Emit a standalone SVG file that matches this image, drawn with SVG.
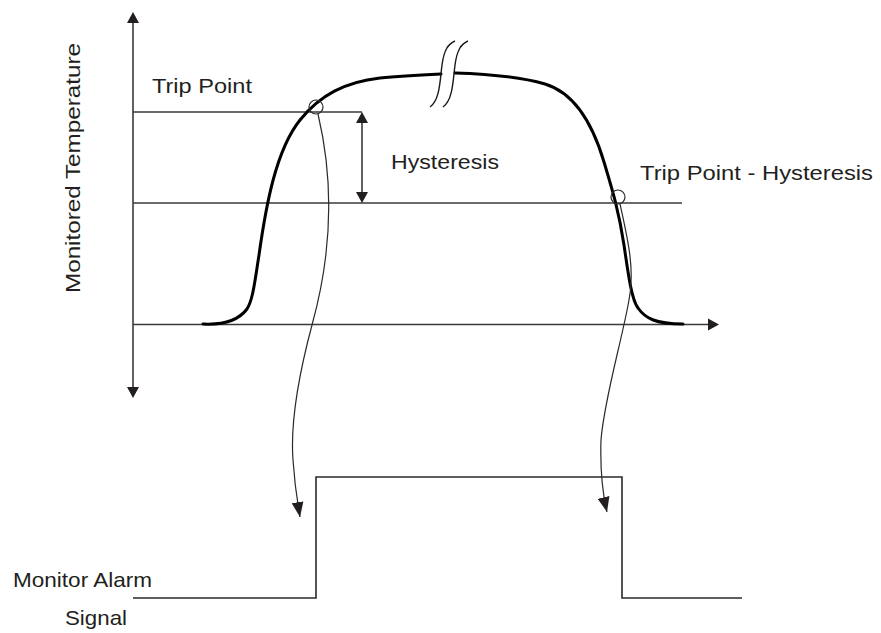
<svg xmlns="http://www.w3.org/2000/svg" width="881" height="633" viewBox="0 0 881 633">
<style>
.ax{stroke:#3a3a3a;stroke-width:1.6;fill:none}
.thin{stroke:#2a2a2a;stroke-width:1.2;fill:none}
.curve{stroke:#000;stroke-width:3;fill:none;stroke-linecap:round}
.brk{stroke:#1a1a1a;stroke-width:1.4;fill:none}
.sig{stroke:#2a2a2a;stroke-width:1.6;fill:none}
text{font-family:"Liberation Sans",Arial,sans-serif;font-size:21px;fill:#231f20}
</style>
<defs>
<marker id="ah" viewBox="0 0 15 12" refX="15" refY="6" markerWidth="15" markerHeight="12" markerUnits="userSpaceOnUse" orient="auto">
<path d="M0,0 L15,6 L0,12 Z" fill="#231f20"/>
</marker>
</defs>
<g id="axes">
<line class="ax" x1="133" y1="22" x2="133" y2="388"/>
<path d="M133,12 L127,23 L139,23 Z" fill="#231f20"/>
<path d="M133,398 L127,387 L139,387 Z" fill="#231f20"/>
<line class="ax" x1="133" y1="324.5" x2="708" y2="324.5"/>
<path d="M719,324.5 L708,318.5 L708,330.5 Z" fill="#231f20"/>
</g>
<g id="levels">
<line class="ax" x1="133" y1="112" x2="362" y2="112"/>
<line class="ax" x1="133" y1="203" x2="682" y2="203"/>
</g>
<g id="hysteresis-arrow">
<line class="ax" x1="362" y1="122" x2="362" y2="193"/>
<path d="M362,112 L356,123 L368,123 Z" fill="#231f20"/>
<path d="M362,203 L356,192 L368,192 Z" fill="#231f20"/>
</g>
<g id="temperature-curve">
<path class="curve" d="M203,324 C222,325 238,321 247,309 C253,300 255,280 259,255 C266,205 276,150 300,120 C320,95 345,82 380,78 C400,76 420,75 441,74 M455,73 C490,74 520,77 545,84 C575,93 593,125 604,162 C613,192 619,212 624,245 C629,280 632,300 638,308 C645,318 655,324 683,324"/>
</g>
<g id="break-mark">
<path class="brk" d="M430,107 C440,100 440,80 442,65 C444,50 448,44 455,41"/>
<path class="brk" d="M443,107 C453,100 453,80 455,65 C457,50 461,44 468,41"/>
</g>
<g id="markers">
<circle cx="316" cy="107" r="7" class="thin"/>
<circle cx="618" cy="197" r="7" class="thin"/>
</g>
<g id="connectors">
<path class="thin" d="M318,114 C336,190 330,260 312,325 C300,370 290,420 293,460 C295,490 298,505 300,517" marker-end="url(#ah)"/>
<path class="thin" d="M620,204 C628,240 635,270 629,300 C622,340 604,400 601,440 C600,470 603,495 607,512" marker-end="url(#ah)"/>
</g>
<g id="alarm-signal">
<polyline class="sig" points="133,598 316,598 316,477 622,477 622,598 742,598"/>
</g>
<g id="labels">
<text x="152" y="93" textLength="100" lengthAdjust="spacingAndGlyphs">Trip Point</text>
<text x="391" y="169" textLength="108" lengthAdjust="spacingAndGlyphs">Hysteresis</text>
<text x="640" y="180" textLength="233" lengthAdjust="spacingAndGlyphs">Trip Point - Hysteresis</text>
<text transform="translate(80,168) rotate(-90)" text-anchor="middle" textLength="250" lengthAdjust="spacingAndGlyphs">Monitored Temperature</text>
<text x="13" y="587" textLength="139" lengthAdjust="spacingAndGlyphs">Monitor Alarm</text>
<text x="65" y="625" textLength="62" lengthAdjust="spacingAndGlyphs">Signal</text>
</g>
</svg>
